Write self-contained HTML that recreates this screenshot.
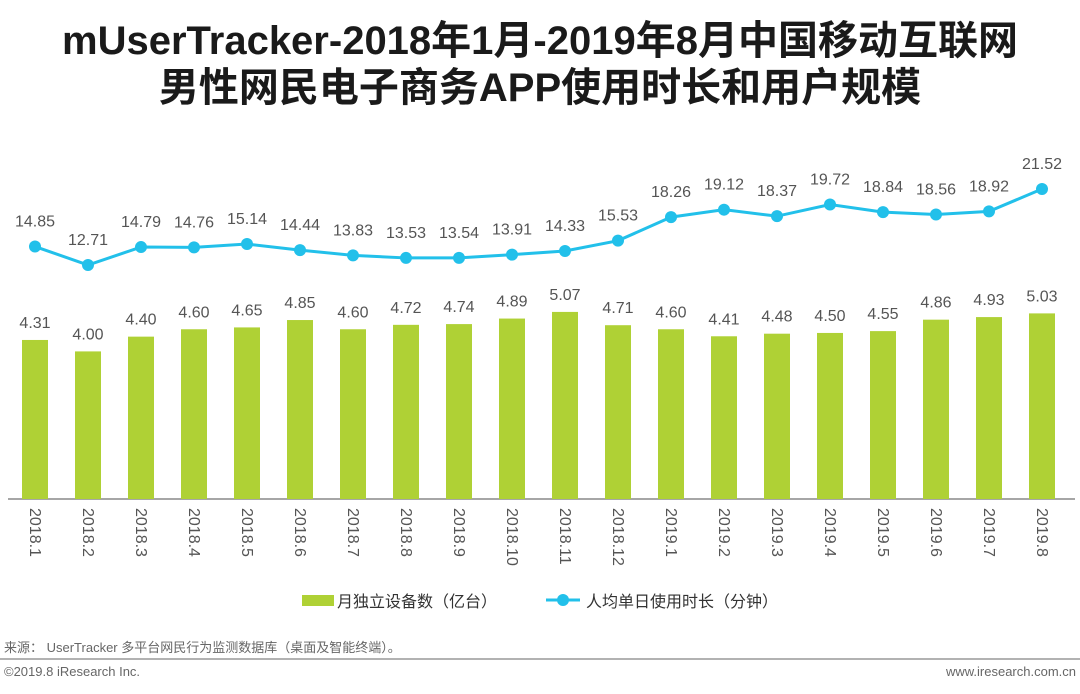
<!DOCTYPE html>
<html><head><meta charset="utf-8">
<style>
body{margin:0;background:#fff;font-family:"Liberation Sans","Noto Sans CJK SC",sans-serif;}
#wrap{position:relative;width:1080px;height:694px;overflow:hidden;}
.title{position:absolute;left:0;width:1080px;text-align:center;font-weight:bold;font-size:40px;color:#1a1a1a;line-height:47px;letter-spacing:0px;}
</style></head><body>
<div id="wrap">
<div class="title" style="top:18px">mUserTracker-2018年1月-2019年8月中国移动互联网<br>男性网民电子商务APP使用时长和用户规模</div>
<svg id="chart" width="1080" height="694" style="position:absolute;left:0;top:0"></svg>
</div>
<script>
const categories=["2018.1","2018.2","2018.3","2018.4","2018.5","2018.6","2018.7","2018.8","2018.9","2018.10","2018.11","2018.12","2019.1","2019.2","2019.3","2019.4","2019.5","2019.6","2019.7","2019.8"];
const devices=[4.31,4.00,4.40,4.60,4.65,4.85,4.60,4.72,4.74,4.89,5.07,4.71,4.60,4.41,4.48,4.50,4.55,4.86,4.93,5.03];
const minutes=[14.85,12.71,14.79,14.76,15.14,14.44,13.83,13.53,13.54,13.91,14.33,15.53,18.26,19.12,18.37,19.72,18.84,18.56,18.92,21.52];
const legendLabels=["月独立设备数（亿台）","人均单日使用时长（分钟）"];

const NS="http://www.w3.org/2000/svg";
const svg=document.getElementById('chart');
function mk(t,a){const e=document.createElementNS(NS,t);for(const k in a)e.setAttribute(k,a[k]);svg.appendChild(e);return e;}
const base=499;
const xs=i=>35+i*(1042-35)/(categories.length-1);
const yBar=v=>base-v*36.9;
const yLine=v=>374.7-v*8.63;
const green="#afd135",cyan="#22c0ea",txt="#555";

let ax=mk('line',{x1:8,x2:1075,y1:base,y2:base,stroke:'#888','stroke-width':1.5});



devices.forEach((v,i)=>{
  const r=mk('rect',{x:xs(i)-13,y:yBar(v),width:26,height:base-yBar(v),fill:green});
  
  
  const t=mk('text',{x:xs(i),y:yBar(v)-12,'text-anchor':'middle','font-size':16,fill:txt});
  t.textContent=v.toFixed(2);
  
  
  const c=mk('text',{x:0,y:0,'font-size':16,fill:txt,transform:`translate(${xs(i)-5},508) rotate(90)`});
  c.textContent=categories[i];
  
  
});

const pts=minutes.map((v,i)=>xs(i)+','+yLine(v)).join(' ');
const pl=mk('polyline',{points:pts,fill:'none',stroke:cyan,'stroke-width':3});


minutes.forEach((v,i)=>{
  const c=mk('circle',{cx:xs(i),cy:yLine(v),r:6,fill:cyan});
  
  
  const t=mk('text',{x:xs(i),y:yLine(v)-20,'text-anchor':'middle','font-size':16,fill:txt});
  t.textContent=v.toFixed(2);
  
  
});

const l1=mk('rect',{x:302,y:595,width:32,height:11,fill:green});


const lt1=mk('text',{x:337,y:607,'font-size':16,fill:'#333'});
lt1.textContent=legendLabels[0];


const l2=mk('line',{x1:546,x2:580,y1:600,y2:600,stroke:cyan,'stroke-width':3});


const l2c=mk('circle',{cx:563,cy:600,r:6,fill:cyan});


const lt2=mk('text',{x:586,y:607,'font-size':16,fill:'#333'});
lt2.textContent=legendLabels[1];



const src=mk('text',{x:4,y:652,'font-size':13,fill:'#666'});
src.textContent="来源： UserTracker 多平台网民行为监测数据库（桌面及智能终端）。";


const fl=mk('line',{x1:0,x2:1080,y1:659,y2:659,stroke:'#999','stroke-width':1.5});


const cp=mk('text',{x:4,y:676,'font-size':13,fill:'#666'});
cp.textContent="©2019.8 iResearch Inc.";


const ws=mk('text',{x:1076,y:676,'font-size':13,fill:'#666','text-anchor':'end'});
ws.textContent="www.iresearch.com.cn";


</script>
</body></html>
